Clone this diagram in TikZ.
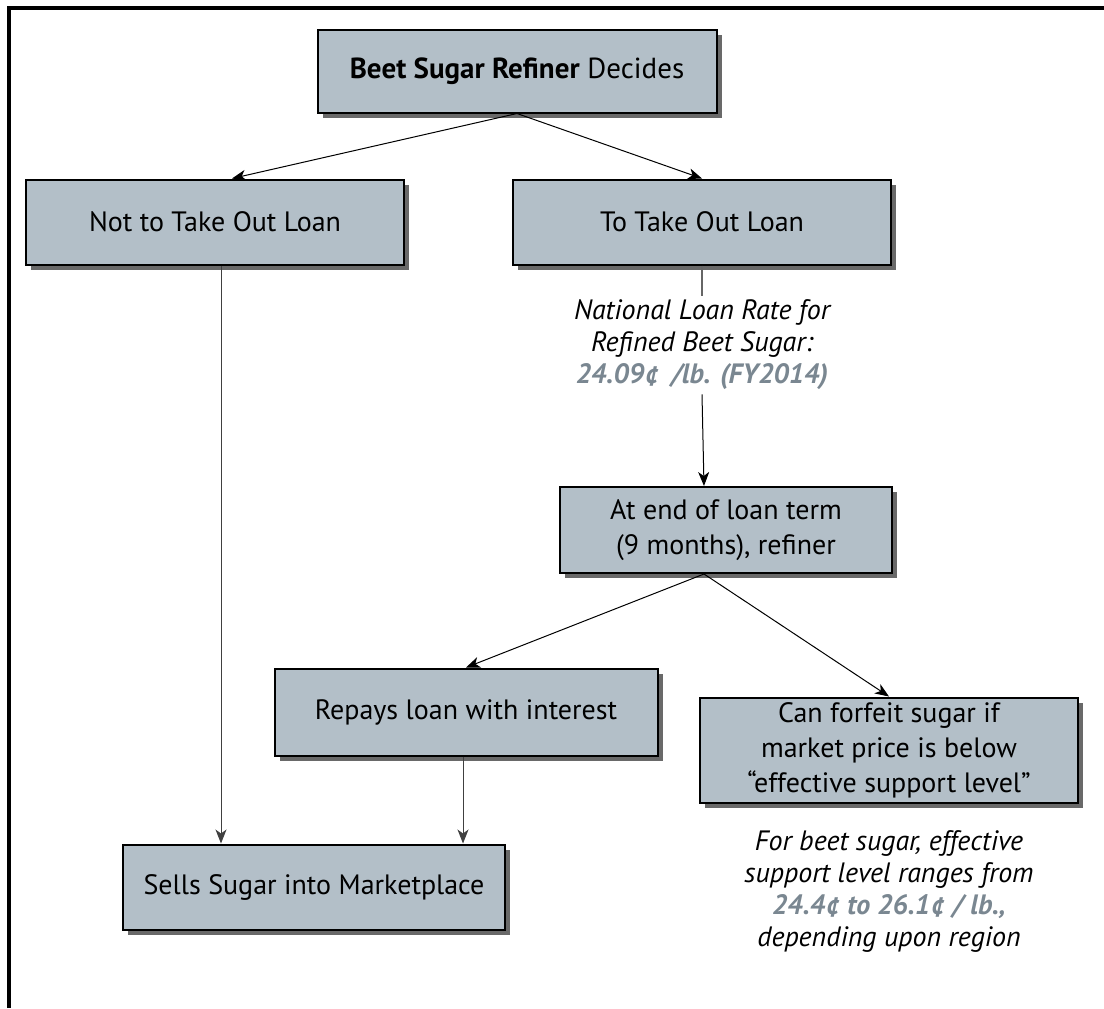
\documentclass[tikz,border=0pt]{standalone}
\usepackage{fontspec}
\setmainfont{PT Sans}
\usetikzlibrary{positioning,arrows.meta,shadows}

\definecolor{boxfill}{RGB}{179,191,200}
\definecolor{shade}{RGB}{105,105,105}
\definecolor{figgray}{RGB}{122,135,145}

\begin{document}
\begin{tikzpicture}[
x=0.5pt,y=-0.5pt,
box/.style={draw=black,line width=1pt,fill=boxfill,align=center,inner sep=0pt,
  font=\fontsize{14}{17.5}\selectfont,
  drop shadow={shadow xshift=2.5pt,shadow yshift=-2.5pt,fill=shade,opacity=1}},
note/.style={align=center,inner sep=2pt,font=\fontsize{14}{16}\selectfont\itshape},
arr/.style={-{Stealth[length=7pt,width=5.5pt,inset=2pt]},line width=0.5pt},
]
\useasboundingbox (0,0) rectangle (1104,1008);
\draw[line width=1.6pt] (9,1008) -- (9,8) -- (1104,8);

\node[box,minimum width=199.5pt,minimum height=41.5pt] (top) at (517,71) {\fontsize{14.5}{18}\selectfont\textbf{Beet Sugar Refiner} Decides};
\node[box,minimum width=189pt,minimum height=42.5pt] (nottake) at (215,222) {Not to Take Out Loan};
\node[box,minimum width=189pt,minimum height=42.5pt] (take) at (702,222) {To Take Out Loan};

\node[note] (rate) at (702,345) {National Loan Rate for\\Refined Beet Sugar:\\{\color{figgray}\bfseries 24.09¢\, /lb. (FY2014)}};

\node[box,minimum width=166pt,minimum height=43pt] (atend) at (726,530) {At end of loan term\\(9 months), refiner};
\node[box,minimum width=191.5pt,minimum height=43.5pt] (repay) at (466,712) {Repays loan with interest};
\node[box,minimum width=189pt,minimum height=52.5pt] (forfeit) at (889,750) {Can forfeit sugar if\\market price is below\\“effective support level”};
\node[note] (range) at (889,891) {For beet sugar, effective\\support level ranges from\\{\color{figgray}\bfseries 24.4¢ to 26.1¢ / lb.,}\\depending upon region};
\node[box,minimum width=191pt,minimum height=42.5pt] (sells) at (314,887) {Sells Sugar into Marketplace};

% connectors
\draw[arr] (top.south) -- ([xshift=8.5pt]nottake.north);
\draw[arr] (top.south) -- (take.north);
\draw[line width=0.6pt,black!60] (take.south) -- (rate.north);
\draw[arr] (rate.south) -- ([xshift=-11pt]atend.north);
\draw[arr] ([xshift=-11pt]atend.south) -- (repay.north);
\draw[arr] ([xshift=-11pt]atend.south) -- (forfeit.north);
\draw[arr,black!75] ([xshift=3pt]nottake.south) -- ([xshift=-46.5pt]sells.north);
\draw[arr,black!75] ([xshift=-1.5pt]repay.south) -- ([xshift=74.5pt]sells.north);
\end{tikzpicture}
\end{document}
